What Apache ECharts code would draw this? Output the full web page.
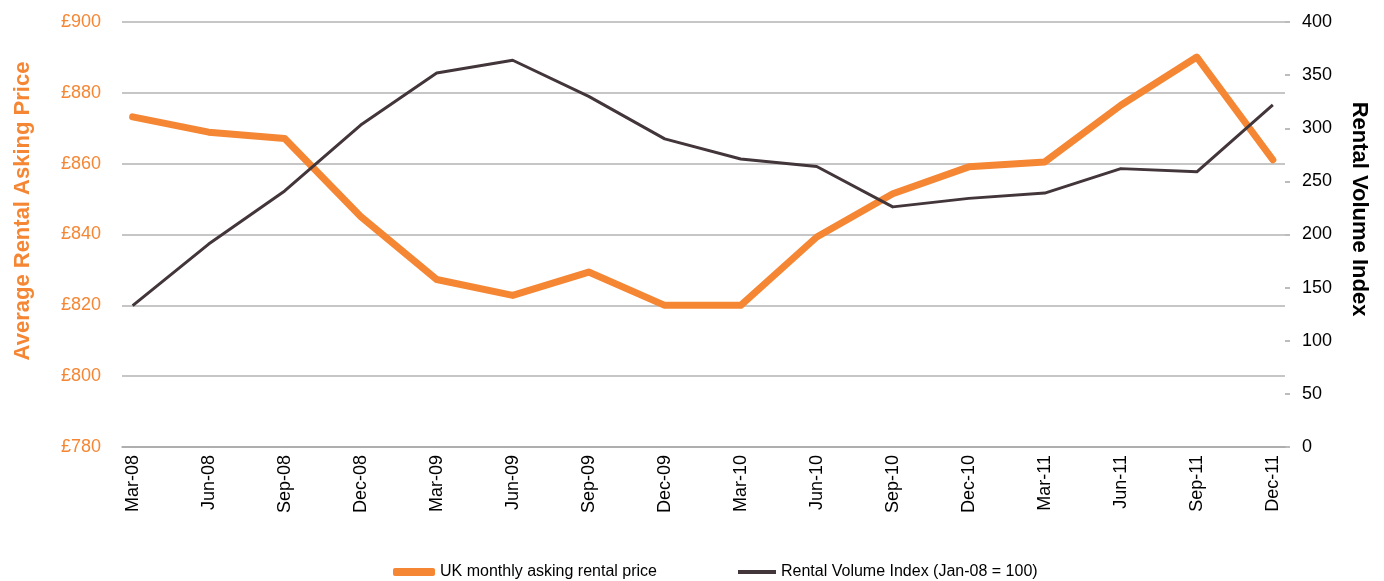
<!DOCTYPE html>
<html>
<head>
<meta charset="utf-8">
<script src="https://cdn.jsdelivr.net/npm/echarts@6/dist/echarts.min.js"></script>
<style>
  html, body { margin: 0; padding: 0; background: #fff; }
  #chart { width: 1384px; height: 581px; }
</style>
</head>
<body>
<div id="chart"></div>
<script>
var categories = ['Mar-08', 'Jun-08', 'Sep-08', 'Dec-08', 'Mar-09', 'Jun-09', 'Sep-09', 'Dec-09',
                  'Mar-10', 'Jun-10', 'Sep-10', 'Dec-10', 'Mar-11', 'Jun-11', 'Sep-11', 'Dec-11'];
var askingPrice = [873.2, 868.9, 867.1, 845.1, 827.3, 822.8, 829.4, 820, 820, 839.3, 851.5, 859.1, 860.5, 876.5, 890.1, 861.1];
var volumeIndex = [133, 191, 241, 303, 352, 364, 330, 290, 271, 264, 226, 234, 239, 262, 259, 322];
var priceTicks = [780, 800, 820, 840, 860, 880, 900];
var volumeTicks = [0, 50, 100, 150, 200, 250, 300, 350, 400];

var orange = '#f58634';
var dark = '#43363a';
var font = 'Liberation Sans, Arial, sans-serif';

function pairs(vals) {
  var out = [];
  for (var i = 0; i < vals.length; i++) out.push([i, vals[i]]);
  return out;
}

var myChart = echarts.init(document.getElementById('chart'));

var option = {
  backgroundColor: '#fff',
  animation: false,
  grid: { left: 122, right: 99, top: 22, bottom: 134 },
  xAxis: {
    type: 'value',
    min: -0.14,
    max: 15.16,
    axisLine: { show: true, lineStyle: { color: '#a6a6a6', width: 1.5 } },
    axisTick: { show: false },
    splitLine: { show: false },
    axisLabel: {
      customValues: categories.map(function (c, i) { return i; }),
      formatter: function (v) { return categories[Math.round(v)]; },
      rotate: 90,
      margin: 8,
      color: '#000',
      fontSize: 18,
      fontFamily: font
    }
  },
  yAxis: [
    {
      type: 'value',
      min: priceTicks[0],
      max: priceTicks[priceTicks.length - 1],
      interval: 20,
      axisLine: { show: false },
      axisTick: { show: false },
      splitLine: { lineStyle: { color: '#b3b3b3', width: 1.5 } },
      axisLabel: {
        formatter: function (v) { return '£' + v; },
        color: orange,
        fontSize: 18,
        fontFamily: font,
        margin: 21
      }
    },
    {
      type: 'value',
      position: 'right',
      min: volumeTicks[0],
      max: volumeTicks[volumeTicks.length - 1],
      interval: 50,
      axisLine: { show: false },
      axisTick: { show: true, length: 5, lineStyle: { color: '#a6a6a6', width: 1.5 } },
      splitLine: { show: false },
      axisLabel: {
        color: '#000',
        fontSize: 18,
        fontFamily: font,
        margin: 17
      }
    }
  ],
  legend: [
    {
      data: ['UK monthly asking rental price'],
      left: 388, top: 559,
      icon: 'roundRect',
      itemWidth: 42, itemHeight: 8,
      textStyle: { color: '#000', fontSize: 16, fontFamily: font }
    },
    {
      data: ['Rental Volume Index (Jan-08 = 100)'],
      left: 733, top: 559,
      icon: 'rect',
      itemWidth: 38, itemHeight: 4,
      textStyle: { color: '#000', fontSize: 16, fontFamily: font }
    }
  ],
  graphic: [
    {
      type: 'text', x: 23, y: 211, rotation: Math.PI / 2,
      style: { text: 'Average Rental Asking Price', fill: orange, font: 'bold 22px ' + font,
               align: 'center', verticalAlign: 'middle' }
    },
    {
      type: 'text', x: 1359, y: 209, rotation: -Math.PI / 2,
      style: { text: 'Rental Volume Index', fill: '#000', font: 'bold 22px ' + font,
               align: 'center', verticalAlign: 'middle' }
    }
  ],
  series: [
    {
      name: 'UK monthly asking rental price',
      type: 'line',
      yAxisIndex: 0,
      data: pairs(askingPrice),
      symbol: 'none',
      color: orange,
      lineStyle: { width: 7, color: orange, cap: 'round', join: 'round' }
    },
    {
      name: 'Rental Volume Index (Jan-08 = 100)',
      type: 'line',
      yAxisIndex: 1,
      data: pairs(volumeIndex),
      symbol: 'none',
      color: dark,
      lineStyle: { width: 3, color: dark, join: 'round' }
    }
  ]
};

myChart.setOption(option);
</script>
</body>
</html>
